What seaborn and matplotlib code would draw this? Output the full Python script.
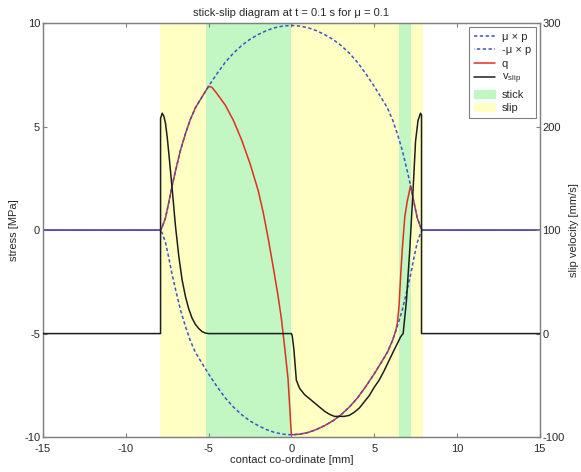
import matplotlib
matplotlib.use("Agg")
import matplotlib.pyplot as plt
import matplotlib.patches as mpatches
import seaborn as sns
import pandas as pd

# ---------------- data ----------------
mu_x = [-15, -7.9, -7.8, -7.6, -7.4, -7.2, -7.0, -6.7, -6.4, -6.1, -5.8, -5.5, -5.0,
        -4.5, -4.0, -3.5, -3.0, -2.5, -2.0, -1.5, -1.0, -0.5, 0.0, 0.5, 1.0, 1.5, 2.0,
        2.5, 3.0, 3.5, 4.0, 4.5, 5.0, 5.5, 5.8, 6.1, 6.4, 6.7, 7.0, 7.2, 7.4, 7.6, 7.8,
        7.9, 15]
mu_p = [0, 0, 0.15, 0.6, 1.35, 2.15, 2.85, 3.85, 4.65, 5.35, 5.9, 6.3, 6.95,
        7.55, 8.1, 8.55, 8.92, 9.22, 9.45, 9.64, 9.78, 9.86, 9.89, 9.86, 9.78, 9.64, 9.45,
        9.22, 8.92, 8.55, 8.1, 7.55, 6.95, 6.3, 5.9, 5.35, 4.65, 3.85, 2.85, 2.15, 1.35,
        0.6, 0.15, 0, 0]
neg_mu_p = [-v for v in mu_p]

q_x = [-15, -7.9, -7.8, -7.6, -7.4, -7.2, -7.0, -6.7, -6.4, -6.1, -5.8, -5.5, -5.0,
       -4.8, -4.5, -4.0, -3.5, -3.0, -2.5, -2.0, -1.7, -1.4, -1.1, -0.8, -0.6, -0.4,
       -0.2, 0.0, 0.5, 1.0, 1.5, 2.0, 2.5, 3.0, 3.5, 4.0, 4.5, 5.0, 5.5, 5.8, 6.1, 6.3,
       6.4, 6.5, 6.6, 6.7, 6.85, 7.0, 7.2, 7.4, 7.6, 7.8, 7.9, 15]
q_v = [0, 0, 0.15, 0.6, 1.35, 2.15, 2.85, 3.85, 4.65, 5.35, 5.9, 6.3, 6.95,
       6.9, 6.6, 6.05, 5.3, 4.35, 3.22, 1.9, 0.85, -0.4, -1.77, -3.2, -4.3, -5.7,
       -7.2, -9.89, -9.86, -9.78, -9.64, -9.45, -9.22, -8.92, -8.55, -8.1, -7.55, -6.95,
       -6.3, -5.9, -5.35, -4.88, -4.5, -3.7, -2.2, -0.9, 0.64, 1.4, 2.15, 1.35, 0.6,
       0.15, 0, 0]

v_x = [-15, -7.9, -7.9, -7.8, -7.7, -7.6, -7.5, -7.4, -7.3, -7.2, -7.0, -6.8, -6.6,
       -6.4, -6.2, -6.0, -5.8, -5.6, -5.4, -5.2, -5.0, 0.0, 0.05, 0.15, 0.3, 0.5, 0.8,
       1.1, 1.4, 1.7, 2.0, 2.3, 2.6, 2.9, 3.2, 3.5, 3.8, 4.1, 4.4, 4.7, 5.0, 5.3, 5.6,
       5.9, 6.2, 6.45, 6.6, 6.75, 6.95, 7.15, 7.35, 7.5, 7.65, 7.8, 7.86, 7.86, 15]
v_slip = [0, 0, 208, 213, 210, 203, 190, 174, 157, 140, 104, 75, 52,
          36, 24, 15, 9, 5, 2, 0.5, 0, 0, -2, -15, -45, -53, -59,
          -63, -67, -71, -75, -78, -80, -80, -80, -79, -76, -72, -66, -60, -52, -45, -36,
          -26, -16, -8, -3, 0, 32, 81, 139, 186, 206, 213, 211, 0, 0]

stick_zones = [(-5.16, 0.0), (6.49, 7.21)]
slip_zones = [(-7.94, -5.16), (0.0, 6.49), (7.21, 7.94)]

title = "stick-slip diagram at t = 0.1 s for \u03bc = 0.1"
xlabel = "contact co-ordinate [mm]"
ylabel_left = "stress [MPa]"
ylabel_right = "slip velocity [mm/s]"
left_ticks = [-10, -5, 0, 5, 10]
right_ticks = [-100, 0, 100, 200, 300]
x_ticks = [-15, -10, -5, 0, 5, 10, 15]

# ---------------- style ----------------
sns.set_style("ticks")
plt.rcParams['font.family'] = ['Liberation Sans', 'DejaVu Sans']
plt.rcParams['xtick.direction'] = 'in'
plt.rcParams['ytick.direction'] = 'in'
plt.rcParams['axes.unicode_minus'] = False
plt.rcParams['mathtext.default'] = 'regular'

C_BLUE = '#3a55c8'
C_RED = '#e0301e'
C_BLACK = '#1e1e1e'
C_GREEN = '#c2f6c2'
C_YELLOW = '#ffffc4'
C_SPINE = '#808080'
C_TEXT = '#2a2a2a'
FS = 8

fig = plt.figure(figsize=(5.81, 4.72), dpi=100)
ax = fig.add_axes([0.074, 0.074, 0.855, 0.877])

for a, b in slip_zones:
    ax.axvspan(a, b, color=C_YELLOW, lw=0, zorder=0)
for a, b in stick_zones:
    ax.axvspan(a, b, color=C_GREEN, lw=0, zorder=0)

df_mu = pd.DataFrame({"x": mu_x, "p": mu_p, "np": neg_mu_p})
df_q = pd.DataFrame({"x": q_x, "q": q_v})
df_v = pd.DataFrame({"x": v_x, "v": v_slip})

sns.lineplot(data=df_q, x="x", y="q", ax=ax, color=C_RED, lw=1.1,
             estimator=None, sort=False, zorder=2)
l_q = ax.lines[-1]
sns.lineplot(data=df_mu, x="x", y="p", ax=ax, color=C_BLUE, lw=1.1,
             estimator=None, sort=False, zorder=3)
l_p = ax.lines[-1]
l_p.set_linestyle((0, (2.2, 1.6)))
sns.lineplot(data=df_mu, x="x", y="np", ax=ax, color=C_BLUE, lw=1.1,
             estimator=None, sort=False, zorder=3)
l_np = ax.lines[-1]
l_np.set_linestyle((1.9, (2.2, 1.6)))

ax.set_xlim(-15, 15)
ax.set_ylim(-10, 10)
ax.set_xticks(x_ticks)
ax.set_yticks(left_ticks)
ax.set_xlabel(xlabel, fontsize=FS, color=C_TEXT, labelpad=1)
ax.set_ylabel(ylabel_left, fontsize=FS, color=C_TEXT, labelpad=4)
ax.set_title(title, fontsize=FS, color=C_TEXT, pad=5)
ax.tick_params(axis='both', labelsize=FS, colors=C_SPINE, labelcolor=C_TEXT,
               length=3, top=True, pad=2)
ax.tick_params(axis='x', pad=5)
ax.tick_params(axis='y', right=False)

ax2 = ax.twinx()
sns.lineplot(data=df_v, x="x", y="v", ax=ax2, color=C_BLACK, lw=1.1,
             estimator=None, sort=False, zorder=4)
l_v = ax2.lines[-1]
ax2.set_ylim(-100, 300)
ax2.set_yticks(right_ticks)
ax2.set_ylabel(ylabel_right, fontsize=FS, color=C_TEXT, labelpad=3)
ax2.tick_params(axis='y', labelsize=FS, colors=C_SPINE, labelcolor=C_TEXT,
                length=3, pad=2, direction='in')
ax2.set_xlim(-15, 15)

for a_ in (ax, ax2):
    for s in a_.spines.values():
        s.set_color(C_SPINE)
        s.set_linewidth(0.9)
        s.set_visible(True)

handles = [l_p, l_np, l_q, l_v,
           mpatches.Patch(color=C_GREEN), mpatches.Patch(color=C_YELLOW)]
labels = ["\u03bc \u00d7 p", "-\u03bc \u00d7 p", "q", "v$_{slip}$", "stick", "slip"]
leg = ax2.legend(handles, labels, loc='upper right', fontsize=8,
                 frameon=True, fancybox=False, framealpha=1, edgecolor=C_SPINE,
                 handlelength=1.9, handletextpad=0.6, labelspacing=0.3,
                 borderpad=0.45, borderaxespad=0.35)
leg.get_frame().set_linewidth(0.8)
for t in leg.get_texts():
    t.set_color(C_TEXT)

fig.savefig("out.png", dpi=100)
